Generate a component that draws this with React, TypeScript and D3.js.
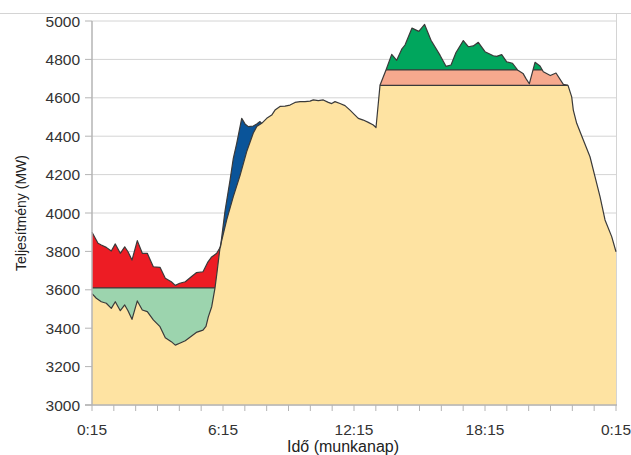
import React from "react";
import * as d3 from "d3";

// time in clock hours (0.25 = 0:15, 24.25 = 0:15 next day), value in MW
const baseLoad: [number, number][] = [
  [0.25, 3580], [0.447, 3556], [0.676, 3538], [0.905, 3530], [1.134, 3503], [1.317, 3538],
  [1.546, 3491], [1.748, 3521], [1.899, 3491], [2.082, 3446], [2.325, 3542], [2.554, 3495],
  [2.783, 3486], [3.058, 3443], [3.365, 3408], [3.607, 3350], [3.882, 3330], [4.065, 3312],
  [4.267, 3322], [4.523, 3335], [4.798, 3358], [5.027, 3378], [5.334, 3390], [5.471, 3410],
  [5.577, 3459], [5.733, 3512], [5.884, 3610], [5.975, 3690], [6.113, 3820], [6.419, 3964],
  [6.722, 4085], [7.029, 4195], [7.336, 4320], [7.638, 4417], [7.794, 4450], [8.023, 4467],
  [8.252, 4493], [8.481, 4510], [8.632, 4536], [8.861, 4555], [9.09, 4557], [9.319, 4562],
  [9.548, 4576], [9.777, 4580], [10.006, 4580], [10.235, 4583], [10.386, 4589], [10.615, 4585],
  [10.844, 4589], [11.073, 4576], [11.229, 4570], [11.38, 4580], [11.609, 4570], [11.838, 4559],
  [12.067, 4536], [12.296, 4510], [12.447, 4493], [12.676, 4484], [12.905, 4472], [13.134, 4458],
  [13.258, 4445], [13.441, 4665], [22.052, 4665], [22.221, 4605], [22.295, 4536], [22.45, 4467],
  [22.753, 4380], [23.059, 4293], [23.288, 4189], [23.518, 4085], [23.747, 3964], [24.053, 3877],
  [24.25, 3798],
];

const morningDemand: [number, number][] = [
  [0.25, 3900], [0.525, 3842], [0.676, 3833], [0.905, 3821], [1.134, 3802], [1.317, 3839],
  [1.546, 3790], [1.748, 3824], [1.899, 3798], [2.082, 3755], [2.325, 3856], [2.554, 3790],
  [2.783, 3790], [3.058, 3720], [3.365, 3717], [3.607, 3660], [3.882, 3642], [4.065, 3623],
  [4.267, 3634], [4.523, 3642], [4.798, 3668], [5.027, 3689], [5.334, 3694], [5.563, 3746],
  [5.714, 3769], [5.961, 3790], [6.136, 3824], [6.342, 4010], [6.571, 4170], [6.722, 4285],
  [6.878, 4363], [7.107, 4493], [7.258, 4464], [7.409, 4450], [7.638, 4453], [7.794, 4464],
  [7.945, 4476], [8.023, 4467],
];

const eveningDemand: [number, number][] = [
  [13.441, 4665], [13.716, 4745], [13.977, 4826], [14.206, 4795], [14.435, 4853], [14.586, 4875],
  [14.907, 4963], [15.218, 4946], [15.484, 4982], [15.777, 4900], [16.189, 4822], [16.464, 4764],
  [16.693, 4771], [16.922, 4836], [17.256, 4898], [17.485, 4866], [17.714, 4870], [17.943, 4889],
  [18.25, 4840], [18.63, 4819], [18.786, 4816], [19.015, 4825], [19.244, 4787], [19.51, 4780],
  [19.739, 4745], [19.991, 4727], [20.128, 4700], [20.279, 4673], [20.541, 4785], [20.77, 4766],
  [20.921, 4736], [21.241, 4716], [21.502, 4729], [21.837, 4670], [22.052, 4665],
];

const nightLevel = 3610;
const capLevel = 4745;
const morningSplit = 6.125;

const xTickHours = d3.range(0.25, 24.26, 1);
const xLabelHours = [0.25, 6.25, 12.25, 18.25, 24.25];
const xLabels = ["0:15", "6:15", "12:15", "18:15", "0:15"];
const yTicks = [3000, 3200, 3400, 3600, 3800, 4000, 4200, 4400, 4600, 4800, 5000];

const W = 631;
const H = 455;

export default function App() {
  const x = d3.scaleLinear().domain([0.25, 24.25]).range([92, 616]);
  const y = d3.scaleLinear().domain([3000, 5000]).range([405, 21]);

  const area = d3
    .area<[number, number]>()
    .x((d) => x(d[0]))
    .y0(y(3000))
    .y1((d) => y(d[1]));
  const line = d3
    .line<[number, number]>()
    .x((d) => x(d[0]))
    .y((d) => y(d[1]));

  const stroke = "#3a3a3a";
  const grid = "#d4d4d4";
  const axis = "#b4b4b4";
  const tickFont = "'Liberation Sans Narrow', 'Liberation Sans', Arial, sans-serif";
  const titleFont = "'Liberation Sans', Arial, sans-serif";

  return (
    <svg
      width={W}
      height={H}
      style={{ position: "absolute", left: 0, top: 0, background: "#fff" }}
    >
      <defs>
        <clipPath id="clipRed">
          <rect x={x(0.25)} y={0} width={x(morningSplit) - x(0.25)} height={y(nightLevel)} />
        </clipPath>
        <clipPath id="clipBlue">
          <rect x={x(morningSplit)} y={0} width={x(9) - x(morningSplit)} height={H} />
        </clipPath>
        <clipPath id="clipAbove">
          <rect x={0} y={0} width={W} height={y(capLevel)} />
        </clipPath>
        <clipPath id="clipBelow">
          <rect x={0} y={y(capLevel)} width={W} height={H - y(capLevel)} />
        </clipPath>
        <clipPath id="clipEvening">
          <path d={area(eveningDemand) || ""} />
        </clipPath>
      </defs>

      {/* frame */}
      <line x1={0} x2={W} y1={13.5} y2={13.5} stroke={grid} strokeWidth={1} />
      <line x1={616.5} x2={616.5} y1={13.5} y2={405} stroke={grid} strokeWidth={1} />

      {/* gridlines */}
      {yTicks.map((t) => (
        <line key={t} x1={92} x2={616} y1={y(t)} y2={y(t)} stroke={grid} strokeWidth={1} />
      ))}

      {/* mint area below night level */}
      <rect
        x={x(0.25)}
        y={y(nightLevel)}
        width={x(morningSplit) - x(0.25)}
        height={y(3000) - y(nightLevel)}
        fill="#9cd4ae"
      />
      {/* red and blue */}
      <path d={area(morningDemand) || ""} fill="#ed1c24" clipPath="url(#clipRed)" />
      <path d={area(morningDemand) || ""} fill="#0a5499" clipPath="url(#clipBlue)" />
      {/* salmon and green */}
      <path d={area(eveningDemand) || ""} fill="#f6a98e" clipPath="url(#clipBelow)" />
      <path d={area(eveningDemand) || ""} fill="#00a65d" clipPath="url(#clipAbove)" />

      {/* level lines */}
      <line
        x1={x(0.25)}
        x2={x(morningSplit)}
        y1={y(nightLevel)}
        y2={y(nightLevel)}
        stroke={stroke}
        strokeWidth={1.2}
      />
      <line
        x1={x(13)}
        x2={x(22.5)}
        y1={y(capLevel)}
        y2={y(capLevel)}
        stroke={stroke}
        strokeWidth={1.2}
        clipPath="url(#clipEvening)"
      />

      {/* base area */}
      <path d={area(baseLoad) || ""} fill="#fee3a2" />

      {/* outlines */}
      <path d={line(baseLoad) || ""} fill="none" stroke={stroke} strokeWidth={1.2} strokeLinejoin="round" />
      <path d={line(morningDemand) || ""} fill="none" stroke={stroke} strokeWidth={1.2} strokeLinejoin="round" />
      <path d={line(eveningDemand) || ""} fill="none" stroke={stroke} strokeWidth={1.2} strokeLinejoin="round" />

      {/* y axis */}
      <line x1={92} x2={92} y1={21} y2={405} stroke={axis} strokeWidth={1.5} />
      {yTicks.map((t) => (
        <g key={t}>
          <line x1={85} x2={92} y1={y(t)} y2={y(t)} stroke={axis} strokeWidth={1} />
          <text
            x={80}
            y={y(t)}
            dy="0.36em"
            textAnchor="end"
            fontFamily={tickFont}
            fontSize={15.5}
            fill="#333"
          >
            {t}
          </text>
        </g>
      ))}

      {/* x axis */}
      <line x1={85} x2={617} y1={405} y2={405} stroke={axis} strokeWidth={1.5} />
      {xTickHours.map((h) => (
        <line key={h} x1={x(h)} x2={x(h)} y1={405} y2={411} stroke={axis} strokeWidth={1} />
      ))}
      {xLabelHours.map((h, i) => (
        <text
          key={i}
          x={x(h)}
          y={435}
          textAnchor="middle"
          fontFamily={tickFont}
          fontSize={15.5}
          fill="#333"
        >
          {xLabels[i]}
        </text>
      ))}

      {/* titles */}
      <text
        x={343}
        y={452}
        textAnchor="middle"
        fontFamily={titleFont}
        fontSize={16}
        fill="#222"
      >
        Idő (munkanap)
      </text>
      <text
        transform={`translate(26,213) rotate(-90)`}
        textAnchor="middle"
        fontFamily={titleFont}
        fontSize={14}
        fill="#222"
      >
        Teljesítmény (MW)
      </text>
    </svg>
  );
}
